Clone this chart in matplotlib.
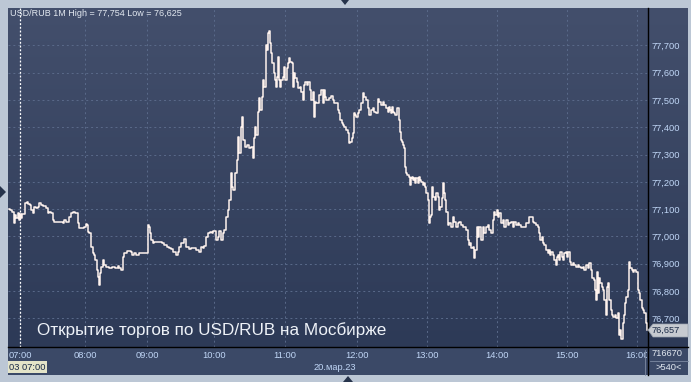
import matplotlib
matplotlib.use("Agg")
import matplotlib.pyplot as plt
import numpy as np
from matplotlib.colors import LinearSegmentedColormap
from matplotlib.patches import Rectangle, Polygon
from matplotlib.lines import Line2D
from matplotlib.ticker import FixedLocator, FuncFormatter
from matplotlib.transforms import Bbox, TransformedBbox

plt.rcParams['font.family'] = ['Liberation Sans', 'DejaVu Sans']

# ---------------- data ----------------
bars = [0,2,4,5,6,8,9,10,11,12,14,17,18,20,21,23,24,26,28,29,31,33,35,36,38,39,41,43,44,46,
        49,51,53,54,56,58,61,63,64,68,69,71,74,76,77,78,79,81,83,84,85,87,88,89,90,91,93,94,96,98,
        101,104,108,109,111,113,114,116,119,121,
        122,123,126,128,131,136,138,139,140,141,143,144,146,151,154,156,159,161,163,165,
        168,169,171,173,176,178,181,183,186,188,191,193,194,196,198,199,202,203,205,208,
        209,211,213,214,216,218,219,221,222,223,225,227,228,229,231,232,233,235,236,239,
        241,243,244,245,246,248,249,250,252,253,254,256,257,258,259,260,261,262,264,265,
        266,267,268,269,270,271,273,274,275,277,278,279,280,282,283,284,285,287,288,290,
        291,293,294,295,297,298,300,301,303,304,305,306,308,309,311,313,314,315,316,318,
        319,321,323,324,326,328,329,330,332,333,334,336,338,339,340,342,343,344,345,346,
        348,349,351,353,354,356,358,359,361,363,364,
        366,368,369,371,373,374,376,378,379,380,381,382,383,384,385,387,388,389,390,391,
        392,393,394,395,396,397,399,400,401,402,403,404,405,406,408,409,410,411,413,414,
        415,416,418,419,420,421,422,423,425,426,428,429,430,432,433,434,435,436,438,439,
        441,443,444,446,448,449,451,453,454,456,458,459,460,461,463,464,465,467,468,469,
        471,473,474,476,478,479,481,483,484,485,487,488,489,
        491,493,494,496,498,499,501,503,504,506,508,509,511,513,514,516,518,519,521,523,
        524,526,528,529,530,532,533,534,536,538,539,540,541,543,544,546,547,548,549,550,
        552,553,554,556,557,558,560,561,563,564,566,568,569,571,573,574,576,578,579,581,
        582,584,585,586,587,588,589,590,592,593,594,596,597,598,599,601,602,603,605,606,
        608,609,610,611,613,614,615,616,618,619,620,622,623,624,626,628,629,630,632,633,
        634,636,637,638]

prices = [77.100,77.097,77.090,77.049,77.078,77.067,77.086,77.060,77.082,77.067,
          77.082,77.122,77.126,77.118,77.115,77.097,77.086,77.108,77.104,77.108,
          77.122,77.115,77.111,77.111,77.104,77.086,77.090,77.086,77.060,77.053,
          77.053,77.053,77.053,77.049,77.060,77.053,77.071,77.086,77.090,77.086,
          77.049,77.031,77.031,77.034,77.045,77.042,77.016,77.012,76.961,76.939,
          76.932,76.914,76.877,76.851,76.822,76.866,76.888,76.914,76.895,76.888,
          76.884,76.888,76.884,76.892,76.884,76.877,76.925,76.939,76.947,76.947,
          76.943,76.932,76.939,76.932,76.939,76.939,76.939,77.042,77.034,77.012,
          76.987,76.976,76.980,76.980,76.976,76.969,76.961,76.958,76.954,76.943,
          76.932,76.943,76.961,76.976,76.991,76.961,76.954,76.958,76.958,76.950,
          76.943,76.961,76.958,76.965,76.998,77.012,77.016,77.012,77.020,76.987,
          76.998,77.020,76.987,77.012,77.023,77.071,77.097,77.133,77.232,77.181,
          77.170,77.232,77.280,77.364,77.306,77.401,77.437,77.353,77.327,77.335,
          77.324,77.327,77.287,77.360,77.401,77.371,77.456,77.507,77.463,77.511,
          77.573,77.547,77.701,77.683,77.745,77.754,77.708,77.672,77.635,77.599,
          77.573,77.547,77.584,77.657,77.573,77.547,77.573,77.584,77.621,77.573,
          77.617,77.635,77.653,77.639,77.635,77.547,77.599,77.580,77.566,77.544,
          77.547,77.529,77.500,77.555,77.566,77.555,77.566,77.536,77.500,77.529,
          77.437,77.492,77.489,77.489,77.518,77.536,77.489,77.536,77.511,77.500,
          77.500,77.507,77.514,77.500,77.489,77.489,77.463,77.452,77.426,77.415,
          77.408,77.401,77.390,77.379,77.342,77.346,77.360,77.379,77.452,77.445,
          77.437,77.452,77.463,77.489,77.525,77.511,77.500,77.470,77.445,77.463,
          77.470,
          77.456,77.452,77.503,77.492,77.481,77.492,77.481,77.470,77.456,77.474,
          77.463,77.452,77.474,77.456,77.452,77.445,77.470,77.470,77.426,77.382,
          77.353,77.346,77.335,77.324,77.254,77.232,77.225,77.218,77.188,77.214,
          77.218,77.207,77.214,77.196,77.214,77.196,77.218,77.207,77.199,77.188,
          77.196,77.181,77.159,77.133,77.049,77.071,77.078,77.181,77.144,77.133,
          77.159,77.144,77.097,77.108,77.141,77.196,77.159,77.133,77.090,77.042,
          77.049,77.034,77.071,77.053,77.034,77.049,77.053,77.042,77.034,77.034,
          77.023,76.987,76.969,76.976,76.958,76.961,76.921,76.950,77.034,76.998,
          77.034,76.987,77.034,77.012,77.034,77.042,77.023,77.012,77.060,77.090,
          77.078,77.097,77.071,
          77.086,77.049,77.060,77.034,77.060,77.042,77.049,77.053,77.034,77.053,
          77.042,77.049,77.042,77.034,77.034,77.034,77.049,77.049,77.071,77.071,
          77.053,77.049,77.042,77.034,77.012,76.987,76.998,76.976,76.969,76.950,
          76.939,76.950,76.932,76.943,76.932,76.914,76.895,76.925,76.932,76.914,
          76.943,76.925,76.914,76.939,76.943,76.925,76.943,76.906,76.895,76.903,
          76.895,76.888,76.895,76.888,76.884,76.888,76.877,76.895,76.884,76.903,
          76.877,76.848,76.840,76.804,76.767,76.870,76.793,76.848,76.829,76.815,
          76.804,76.767,76.712,76.815,76.829,76.767,76.730,76.712,76.705,76.712,
          76.701,76.719,76.639,76.657,76.625,76.683,76.712,76.756,76.778,76.804,
          76.906,76.884,76.877,76.870,76.877,76.870,76.804,76.793,76.767,76.738,
          76.730,76.719,76.683,76.657]

hour_labels = ["07:00", "08:00", "09:00", "10:00", "11:00", "12:00",
               "13:00", "14:00", "15:00", "16:00"]
hour_bars = [11, 76, 138, 205, 276, 348, 418, 488, 558, 628]
price_ticks = [76.7, 76.8, 76.9, 77.0, 77.1, 77.2, 77.3, 77.4, 77.5, 77.6, 77.7]
last_price = "76,657"
info_text = "USD/RUB 1M High = 77,754 Low = 76,625"
title_text = "Открытие торгов по USD/RUB на Мосбирже"
date_text = "20.мар.23"
cursor_text = "03 07:00"
cursor_bar = 11

# ---------------- figure ----------------
W, H = 691, 382
fig = plt.figure(figsize=(W / 100, H / 100), dpi=100)
fig.patch.set_facecolor('#bcc7d5')

def fr(x0, y0, x1, y1):
    """pixel box (top-left origin) -> figure fraction rect"""
    return [x0 / W, 1 - y1 / H, (x1 - x0) / W, (y1 - y0) / H]

def fp(x, y):
    return (x / W, 1 - y / H)

# background gradient (plot + right scale)
bg = fig.add_axes(fr(8, 8, 688, 347))
bg.set_zorder(0)
cmap = LinearSegmentedColormap.from_list('g', ['#434f6c', '#2d3a57'])
bg.imshow(np.linspace(0, 1, 256).reshape(-1, 1), aspect='auto', cmap=cmap,
          extent=[0, 1, 0, 1], origin='upper')
bg.set_axis_off()

# bottom strip
fig.patches.append(Rectangle(fp(8, 375), 680 / W, 28 / H, transform=fig.transFigure,
                             facecolor='#3b4967', edgecolor='none', zorder=0.5))

ax = fig.add_axes(fr(8, 8, 648, 347))
ax.set_zorder(2)
ax.set_facecolor('none')
ax.set_xlim(-1, 639)
ax.set_ylim(76.595, 77.837)

ax.plot(bars, prices, color='#fff3ee', lw=1.1, drawstyle='steps-mid', zorder=3)
ax.axvline(cursor_bar, color='white', lw=0.9, ls=(0, (1.5, 1.5)), zorder=2)

ax.xaxis.set_major_locator(FixedLocator(hour_bars))
ax.set_xticklabels(hour_labels)
ax.yaxis.set_major_locator(FixedLocator(price_ticks))
ax.yaxis.set_major_formatter(FuncFormatter(lambda v, p: f"{v:.3f}".replace('.', ',')))
ax.yaxis.tick_right()
ax.tick_params(axis='both', length=0, labelsize=6.7, colors='#c0d6f6')
ax.tick_params(axis='y', pad=2.4)
ax.tick_params(axis='x', pad=2.6)
ax.grid(True, color='#5a6a8a', lw=0.7, ls=(0, (2, 3)))
for s in ax.spines.values():
    s.set_visible(False)

# clip last time label at the scale separator, as in the terminal
clip = TransformedBbox(Bbox([[0, 0], [647 / W, 1]]), fig.transFigure)
last_lab = ax.get_xticklabels()[-1]
last_lab.set_clip_box(clip)
last_lab.set_clip_on(True)

# separators
fig.add_artist(Line2D([648 / W, 648 / W], [1 - 8 / H, 1 - 375 / H], color='black', lw=1.0, zorder=6))
fig.add_artist(Line2D([8 / W, 688 / W], [1 - 347 / H, 1 - 347 / H], color='black', lw=1.0, zorder=6))
fig.add_artist(Line2D([645 / W, 645 / W], [1 - 350 / H, 1 - 375 / H], color='#7d8aa2', lw=0.6, zorder=6))
fig.add_artist(Line2D([650 / W, 688 / W], [1 - 361 / H, 1 - 361 / H], color='#7d8aa2', lw=0.6, zorder=6))

# texts
fig.text(*fp(10, 14), info_text, fontsize=6.5, color='#e2e8f0', va='center', ha='left', zorder=6)
fig.text(*fp(37, 330), title_text, fontsize=12.3, color='#eef2f8', va='center', ha='left', zorder=6)
fig.text(*fp(335, 367), date_text, fontsize=6.7, color='#c0d6f6', va='center', ha='center', zorder=6)
fig.text(*fp(652, 354), "716670", fontsize=6.7, color='#e2e8f0', va='center', ha='left', zorder=6)
fig.text(*fp(655, 368), ">540<", fontsize=6.7, color='#e2e8f0', va='center', ha='left', zorder=6)

# current price marker
fig.patches.append(Polygon([fp(648, 330), fp(653, 324), fp(688, 324), fp(688, 337), fp(653, 337)],
                           closed=True, transform=fig.transFigure, facecolor='#c6cad0',
                           edgecolor='#9aa2ae', lw=0.5, zorder=7))
fig.text(*fp(652, 330.5), last_price, fontsize=6.7, color='#1a2a46', va='center', ha='left', zorder=8)

# cursor time box
fig.patches.append(Rectangle(fp(8, 373), 39 / W, 12 / H, transform=fig.transFigure,
                             facecolor='#e4e4c8', edgecolor='none', zorder=7))
fig.text(*fp(9, 367), cursor_text, fontsize=6.7, color='#1a2a46', va='center', ha='left', zorder=8)

# small triangles
tri = '#26334b'
fig.patches.append(Polygon([fp(341, 0), fp(349, 0), fp(345, 5)], closed=True,
                           transform=fig.transFigure, facecolor=tri, edgecolor='none', zorder=7))
fig.patches.append(Polygon([fp(343, 382), fp(353, 382), fp(348, 376)], closed=True,
                           transform=fig.transFigure, facecolor=tri, edgecolor='none', zorder=7))
fig.patches.append(Polygon([fp(0, 186), fp(0, 198), fp(6, 192)], closed=True,
                           transform=fig.transFigure, facecolor=tri, edgecolor='none', zorder=7))

fig.savefig('out.png', dpi=100, facecolor=fig.get_facecolor())
